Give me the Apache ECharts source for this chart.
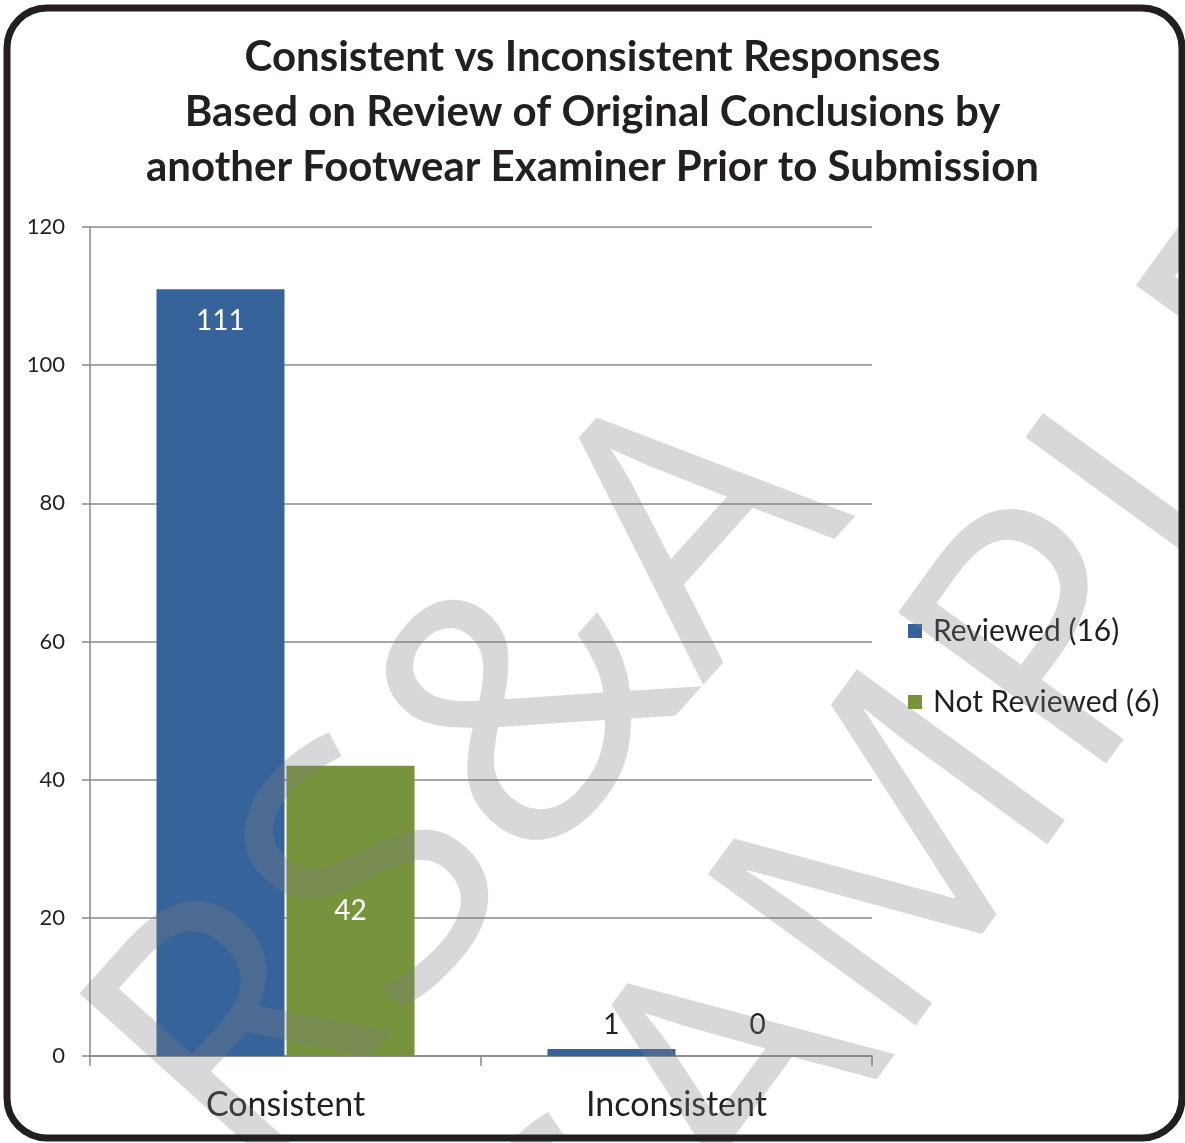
<!DOCTYPE html>
<html>
<head>
<meta charset="utf-8">
<script src="https://cdn.jsdelivr.net/npm/echarts@6/dist/echarts.min.js"></script>
<style>
html,body{margin:0;padding:0;background:#fff;}
#chart{width:1185px;height:1143px;}
</style>
</head>
<body>
<div id="chart"></div>
<script>
const titleText = 'Consistent vs Inconsistent Responses\nBased on Review of Original Conclusions by\nanother Footwear Examiner Prior to Submission';
const categories = ['Consistent', 'Inconsistent'];
const reviewedName = 'Reviewed (16)';
const notReviewedName = 'Not Reviewed (6)';
const reviewedValues = [111, 1];
const notReviewedValues = [42, 0];
const yTicks = [0, 20, 40, 60, 80, 100, 120];
const watermark1 = 'RS&A';
const watermark2 = 'SAMPLE';

const blue = '#36639a';
const green = '#77933c';
const font = 'Lato, "Open Sans", sans-serif';

const chart = echarts.init(document.getElementById('chart'));
const wmStyle = (t) => ({
  text: t,
  font: 'normal 360px "Open Sans", sans-serif',
  fill: 'rgba(125,127,131,0.3)',
  align: 'center',
  verticalAlign: 'middle'
});

chart.setOption({
  backgroundColor: '#fff',
  animation: false,
  title: {
    text: titleText,
    left: 'center',
    top: 25,
    textStyle: {fontFamily: font, fontWeight: 'bold', fontSize: 42, lineHeight: 55, color: '#231f20'}
  },
  legend: {
    orient: 'vertical',
    left: 903,
    top: 611,
    itemWidth: 14,
    itemHeight: 14,
    itemGap: 41,
    icon: 'rect',
    textStyle: {fontFamily: font, fontSize: 30, color: '#231f20', padding: [0,0,0,6]},
    data: [reviewedName, notReviewedName]
  },
  grid: {left: 90, right: 313, top: 227, bottom: 87, containLabel: false},
  xAxis: {
    type: 'category',
    data: categories,
    axisLine: {lineStyle: {color: '#8a8a8a', width: 1.5}},
    axisTick: {show: true, length: 10, lineStyle: {color: '#8a8a8a', width: 1.5}},
    axisLabel: {fontFamily: font, fontSize: 34, color: '#231f20', margin: 32}
  },
  yAxis: {
    type: 'value',
    min: 0,
    max: 120,
    interval: 20,
    axisLine: {show: true, lineStyle: {color: '#8a8a8a', width: 1.5}},
    axisTick: {show: true, length: 8, lineStyle: {color: '#8a8a8a', width: 1.5}},
    splitLine: {lineStyle: {color: '#8a8a8a', width: 1.5}},
    axisLabel: {
      fontFamily: font, fontSize: 22, color: '#231f20', margin: 25,
      formatter: (v) => yTicks.includes(v) ? String(v) : ''
    }
  },
  series: [
    {
      name: reviewedName,
      type: 'bar',
      barWidth: 128,
      barGap: '1.6%',
      itemStyle: {color: blue},
      data: reviewedValues.map((v, i) => ({
        value: v,
        label: i === 0
          ? {show: true, position: 'insideTop', distance: 18, color: '#fff', fontFamily: font, fontSize: 28}
          : {show: true, position: 'top', distance: 10, color: '#231f20', fontFamily: font, fontSize: 28}
      }))
    },
    {
      name: notReviewedName,
      type: 'bar',
      barWidth: 128,
      barGap: '1.6%',
      itemStyle: {color: green},
      data: notReviewedValues.map((v, i) => ({
        value: v,
        label: i === 0
          ? {show: true, position: 'inside', color: '#fff', fontFamily: font, fontSize: 28}
          : {show: true, position: 'top', distance: 17, offset: [16, 0], color: '#231f20', fontFamily: font, fontSize: 28}
      }))
    }
  ],
  graphic: [
    {
      type: 'rect',
      shape: {x: 7, y: 8, width: 1175, height: 1130, r: 40},
      style: {fill: 'none', stroke: '#231f20', lineWidth: 7},
      z: 100
    },
    {
      type: 'text',
      x: 475, y: 785,
      rotation: 48 * Math.PI / 180,
      style: wmStyle(watermark1),
      z: 90, silent: true
    },
    {
      type: 'text',
      x: 960, y: 790,
      rotation: 54 * Math.PI / 180,
      style: wmStyle(watermark2),
      z: 90, silent: true
    }
  ]
});
</script>
</body>
</html>
